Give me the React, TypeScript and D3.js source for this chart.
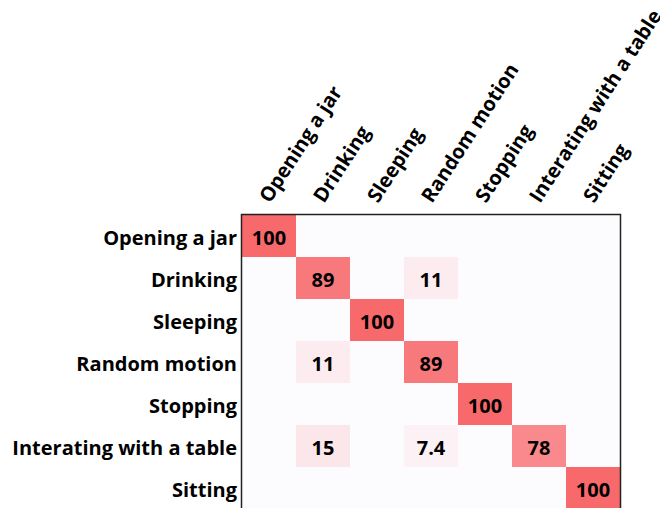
import React from "react";
import * as d3 from "d3";

const rowLabels = ["Opening a jar", "Drinking", "Sleeping", "Random motion", "Stopping", "Interating with a table", "Sitting"];
const colLabels = ["Opening a jar", "Drinking", "Sleeping", "Random motion", "Stopping", "Interating with a table", "Sitting"];
const matrix: number[][] = [
  [100, 0, 0, 0, 0, 0, 0],
  [0, 89, 0, 11, 0, 0, 0],
  [0, 0, 100, 0, 0, 0, 0],
  [0, 11, 0, 89, 0, 0, 0],
  [0, 0, 0, 0, 100, 0, 0],
  [0, 15, 0, 7.4, 0, 78, 0],
  [0, 0, 0, 0, 0, 0, 100],
];

export default function App() {
  const W = 660, H = 508;
  const left = 242, top = 215, cw = 54, ch = 42;
  const x = d3.scaleBand<number>().domain(d3.range(colLabels.length)).range([left, left + cw * colLabels.length]);
  const y = d3.scaleBand<number>().domain(d3.range(rowLabels.length)).range([top, top + ch * rowLabels.length]);
  const color = d3.scaleLinear<string>().domain([0, 100]).range(["#FCFCFF", "#F8696B"]).interpolate(d3.interpolateRgb);
  const font = "'Open Sans', sans-serif";
  return (
    <svg width={W} height={H} style={{ position: "absolute", left: 0, top: 0, background: "#fff" }}>
      {matrix.map((row, i) =>
        row.map((v, j) => (
          <g key={`${i}-${j}`}>
            <rect x={x(j)} y={y(i)} width={x.bandwidth()} height={y.bandwidth()} fill={color(v)} />
            {v !== 0 && (
              <text
                x={(x(j) as number) + x.bandwidth() / 2}
                y={(y(i) as number) + y.bandwidth() / 2 + 1}
                textAnchor="middle"
                dominantBaseline="central"
                fontFamily={font}
                fontWeight={700}
                fontSize={20}
                fill="#000"
              >
                {d3.format("~g")(v)}
              </text>
            )}
          </g>
        ))
      )}
      <rect x={left - 0.5} y={top - 0.5} width={cw * colLabels.length + 1} height={ch * rowLabels.length + 1} fill="none" stroke="#222" strokeWidth={1.5} />
      {rowLabels.map((l, i) => (
        <text
          key={l}
          x={left - 5}
          y={(y(i) as number) + y.bandwidth() / 2 + 1}
          textAnchor="end"
          dominantBaseline="central"
          fontFamily={font}
          fontWeight={700}
          fontSize={20}
          fill="#000"
        >
          {l}
        </text>
      ))}
      {colLabels.map((l, j) => {
        const cx = (x(j) as number) + x.bandwidth() / 2 + 1;
        const cy = top - 11;
        return (
          <text
            key={l}
            transform={`translate(${cx},${cy}) rotate(-57)`}
            textAnchor="start"
            fontFamily={font}
            fontWeight={700}
            fontSize={20}
            fill="#000"
          >
            {l}
          </text>
        );
      })}
    </svg>
  );
}
